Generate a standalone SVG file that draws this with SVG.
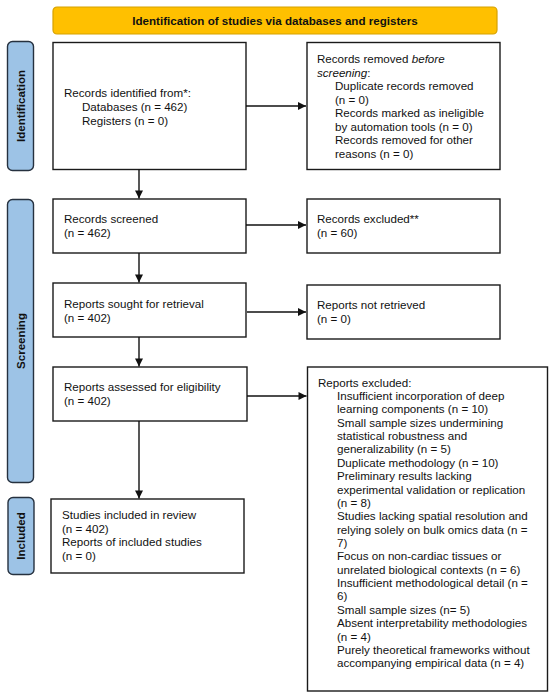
<svg xmlns="http://www.w3.org/2000/svg" width="550" height="697" viewBox="0 0 550 697">
<style>
text{font-family:"Liberation Sans",Arial,sans-serif;font-size:11.6px;fill:#111}
.b{font-weight:bold}
.box{fill:#fff;stroke:#1a1a1a;stroke-width:1.4}
.side{fill:#9DC3E6;stroke:#26313f;stroke-width:1.4}
.ban{fill:#FFC000;stroke:#D6A100;stroke-width:1.2}
.con{stroke:#111;stroke-width:1.4;fill:none;marker-end:url(#ah)}
</style>
<defs>
<marker id="ah" viewBox="0 0 10 10" refX="10" refY="5" markerWidth="9" markerHeight="8" markerUnits="userSpaceOnUse" orient="auto">
<path d="M0,0 L10,5 L0,10 z" fill="#111"/>
</marker>
</defs>
<rect width="550" height="697" fill="#fff"/>
<g id="banner">
<rect class="ban" x="53" y="7" width="444" height="27" rx="4"/>
<text class="b" x="275" y="25" text-anchor="middle">Identification of studies via databases and registers</text>
</g>
<g id="label-identification">
<rect class="side" x="7.5" y="41.5" width="26" height="129" rx="5"/>
<text class="b" transform="translate(24.5,106) rotate(-90)" text-anchor="middle">Identification</text>
</g>
<g id="label-screening">
<rect class="side" x="7.5" y="199.5" width="26" height="283" rx="5"/>
<text class="b" transform="translate(24.5,341) rotate(-90)" text-anchor="middle">Screening</text>
</g>
<g id="label-included">
<rect class="side" x="8" y="497.5" width="26" height="77" rx="5"/>
<text class="b" transform="translate(25,536) rotate(-90)" text-anchor="middle">Included</text>
</g>
<g id="records-identified">
<rect class="box" x="53" y="42.5" width="193" height="127"/>
<text x="64" y="97">Records identified from*:</text>
<text x="82" y="111">Databases (n = 462)</text>
<text x="82" y="124.5">Registers (n = 0)</text>
</g>
<g id="records-removed">
<rect class="box" x="307" y="42.5" width="193" height="127"/>
<text x="317" y="63">Records removed <tspan font-style="italic">before</tspan></text>
<text x="317" y="76.5"><tspan font-style="italic">screening</tspan>:</text>
<text x="335" y="90">Duplicate records removed</text>
<text x="335" y="103.5">(n = 0)</text>
<text x="335" y="117">Records marked as ineligible</text>
<text x="335" y="130.5">by automation tools (n = 0)</text>
<text x="335" y="144">Records removed for other</text>
<text x="335" y="157.5">reasons (n = 0)</text>
</g>
<g id="records-screened">
<rect class="box" x="53" y="199" width="193" height="54"/>
<text x="64" y="223">Records screened</text>
<text x="64" y="236.5">(n = 462)</text>
</g>
<g id="records-excluded">
<rect class="box" x="307" y="199" width="193" height="54"/>
<text x="317" y="223">Records excluded**</text>
<text x="317" y="236.5">(n = 60)</text>
</g>
<g id="reports-sought">
<rect class="box" x="53" y="283" width="193" height="54"/>
<text x="64" y="308">Reports sought for retrieval</text>
<text x="64" y="321.5">(n = 402)</text>
</g>
<g id="reports-not-retrieved">
<rect class="box" x="307" y="285" width="193" height="54"/>
<text x="317" y="309">Reports not retrieved</text>
<text x="317" y="322.5">(n = 0)</text>
</g>
<g id="reports-assessed">
<rect class="box" x="53" y="367" width="194" height="54"/>
<text x="64" y="391">Reports assessed for eligibility</text>
<text x="64" y="404.5">(n = 402)</text>
</g>
<g id="reports-excluded">
<rect class="box" x="307.5" y="367" width="240" height="324"/>
<text x="318" y="386.6">Reports excluded:</text>
<text x="337" y="400">Insufficient incorporation of deep</text>
<text x="337" y="413.4">learning components (n = 10)</text>
<text x="337" y="426.7">Small sample sizes undermining</text>
<text x="337" y="440.1">statistical robustness and</text>
<text x="337" y="453.4">generalizability (n = 5)</text>
<text x="337" y="466.8">Duplicate methodology (n = 10)</text>
<text x="337" y="480.2">Preliminary results lacking</text>
<text x="337" y="493.5">experimental validation or replication</text>
<text x="337" y="506.9">(n = 8)</text>
<text x="337" y="520.2">Studies lacking spatial resolution and</text>
<text x="337" y="533.6">relying solely on bulk omics data (n =</text>
<text x="337" y="547">7)</text>
<text x="337" y="560.3">Focus on non-cardiac tissues or</text>
<text x="337" y="573.7">unrelated biological contexts (n = 6)</text>
<text x="337" y="587">Insufficient methodological detail (n =</text>
<text x="337" y="600.4">6)</text>
<text x="337" y="613.8">Small sample sizes (n= 5)</text>
<text x="337" y="627.1">Absent interpretability methodologies</text>
<text x="337" y="640.5">(n = 4)</text>
<text x="337" y="653.8">Purely theoretical frameworks without</text>
<text x="337" y="667.2">accompanying empirical data (n = 4)</text>
</g>
<g id="studies-included">
<rect class="box" x="51" y="499" width="193" height="74"/>
<text x="62" y="519">Studies included in review</text>
<text x="62" y="532.5">(n = 402)</text>
<text x="62" y="546">Reports of included studies</text>
<text x="62" y="559.5">(n = 0)</text>
</g>
<g id="connectors">
<line class="con" x1="246" y1="106" x2="306" y2="106"/>
<line class="con" x1="246" y1="225" x2="306" y2="225"/>
<line class="con" x1="247" y1="312" x2="306" y2="312"/>
<line class="con" x1="247" y1="396" x2="306.5" y2="396"/>
<line class="con" x1="139" y1="169.5" x2="139" y2="198.5"/>
<line class="con" x1="139" y1="253" x2="139" y2="282.5"/>
<line class="con" x1="139" y1="337" x2="139" y2="366.5"/>
<line class="con" x1="139" y1="421" x2="139" y2="498.5"/>
</g>
</svg>
